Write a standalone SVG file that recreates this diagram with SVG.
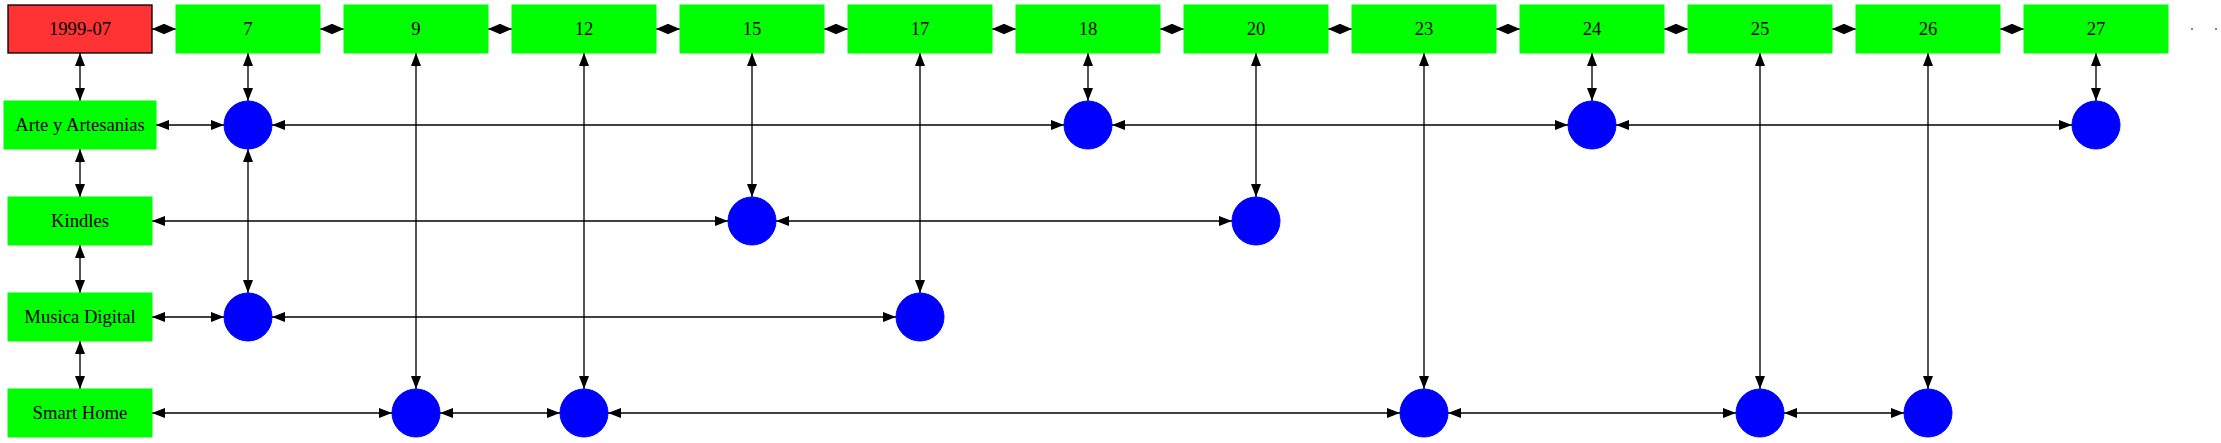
<svg xmlns="http://www.w3.org/2000/svg" width="2221" height="443" viewBox="0 0 2221 443">
<style>
.g{fill:#00ff00;stroke:#00ff00;stroke-width:1}
.r{fill:#ff3333;stroke:#000;stroke-width:1.33}
.c{fill:#0000ff;stroke:#0000ff;stroke-width:1}
.t{font-size:18.67px;text-anchor:middle;fill:#000}
.e{stroke:#000;stroke-width:1.33;fill:none;marker-start:url(#a);marker-end:url(#a)}
.d{stroke:#000;stroke-width:1.33;fill:none;marker-start:url(#b);marker-end:url(#b)}
</style>
<defs>
<marker id="a" markerUnits="userSpaceOnUse" viewBox="0 0 13.4 10.4" refX="13.4" refY="5.2" markerWidth="13.4" markerHeight="10.4" orient="auto-start-reverse"><path d="M0,0 L13.4,5.2 L0,10.4 z" fill="#000"/></marker>
<marker id="b" markerUnits="userSpaceOnUse" viewBox="0 0 12 10.4" refX="12" refY="5.2" markerWidth="12" markerHeight="10.4" orient="auto-start-reverse"><path d="M0,0 L12,5.2 L0,10.4 z" fill="#000"/></marker>
</defs>
<rect width="2221" height="443" fill="#fff"/>
<g id="connectors">
<line class="d" x1="152" y1="29" x2="176" y2="29"/>
<line class="d" x1="320" y1="29" x2="344" y2="29"/>
<line class="d" x1="488" y1="29" x2="512" y2="29"/>
<line class="d" x1="656" y1="29" x2="680" y2="29"/>
<line class="d" x1="824" y1="29" x2="848" y2="29"/>
<line class="d" x1="992" y1="29" x2="1016" y2="29"/>
<line class="d" x1="1160" y1="29" x2="1184" y2="29"/>
<line class="d" x1="1328" y1="29" x2="1352" y2="29"/>
<line class="d" x1="1496" y1="29" x2="1520" y2="29"/>
<line class="d" x1="1664" y1="29" x2="1688" y2="29"/>
<line class="d" x1="1832" y1="29" x2="1856" y2="29"/>
<line class="d" x1="2000" y1="29" x2="2024" y2="29"/>
<line class="e" x1="80" y1="53" x2="80" y2="101"/>
<line class="e" x1="80" y1="149" x2="80" y2="197"/>
<line class="e" x1="80" y1="245" x2="80" y2="293"/>
<line class="e" x1="80" y1="341" x2="80" y2="389"/>
<line class="e" x1="156" y1="125" x2="224" y2="125"/>
<line class="e" x1="272" y1="125" x2="1064" y2="125"/>
<line class="e" x1="1112" y1="125" x2="1568" y2="125"/>
<line class="e" x1="1616" y1="125" x2="2072" y2="125"/>
<line class="e" x1="152" y1="221" x2="728" y2="221"/>
<line class="e" x1="776" y1="221" x2="1232" y2="221"/>
<line class="e" x1="152" y1="317" x2="224" y2="317"/>
<line class="e" x1="272" y1="317" x2="896" y2="317"/>
<line class="e" x1="152" y1="413" x2="392" y2="413"/>
<line class="e" x1="440" y1="413" x2="560" y2="413"/>
<line class="e" x1="608" y1="413" x2="1400" y2="413"/>
<line class="e" x1="1448" y1="413" x2="1736" y2="413"/>
<line class="e" x1="1784" y1="413" x2="1904" y2="413"/>
<line class="e" x1="248" y1="53" x2="248" y2="101"/>
<line class="e" x1="248" y1="149" x2="248" y2="293"/>
<line class="e" x1="416" y1="53" x2="416" y2="389"/>
<line class="e" x1="584" y1="53" x2="584" y2="389"/>
<line class="e" x1="752" y1="53" x2="752" y2="197"/>
<line class="e" x1="920" y1="53" x2="920" y2="293"/>
<line class="e" x1="1088" y1="53" x2="1088" y2="101"/>
<line class="e" x1="1256" y1="53" x2="1256" y2="197"/>
<line class="e" x1="1424" y1="53" x2="1424" y2="389"/>
<line class="e" x1="1592" y1="53" x2="1592" y2="101"/>
<line class="e" x1="1760" y1="53" x2="1760" y2="389"/>
<line class="e" x1="1928" y1="53" x2="1928" y2="389"/>
<line class="e" x1="2096" y1="53" x2="2096" y2="101"/>
</g>
<g font-family="'Liberation Serif', 'DejaVu Serif', serif">
<g id="n1999-07"><rect class="r" x="8" y="5" width="144" height="48"/><text class="t" x="80" y="35">1999-07</text></g>
<g id="n7"><rect class="g" x="176" y="5" width="144" height="48"/><text class="t" x="248" y="35">7</text></g>
<g id="n9"><rect class="g" x="344" y="5" width="144" height="48"/><text class="t" x="416" y="35">9</text></g>
<g id="n12"><rect class="g" x="512" y="5" width="144" height="48"/><text class="t" x="584" y="35">12</text></g>
<g id="n15"><rect class="g" x="680" y="5" width="144" height="48"/><text class="t" x="752" y="35">15</text></g>
<g id="n17"><rect class="g" x="848" y="5" width="144" height="48"/><text class="t" x="920" y="35">17</text></g>
<g id="n18"><rect class="g" x="1016" y="5" width="144" height="48"/><text class="t" x="1088" y="35">18</text></g>
<g id="n20"><rect class="g" x="1184" y="5" width="144" height="48"/><text class="t" x="1256" y="35">20</text></g>
<g id="n23"><rect class="g" x="1352" y="5" width="144" height="48"/><text class="t" x="1424" y="35">23</text></g>
<g id="n24"><rect class="g" x="1520" y="5" width="144" height="48"/><text class="t" x="1592" y="35">24</text></g>
<g id="n25"><rect class="g" x="1688" y="5" width="144" height="48"/><text class="t" x="1760" y="35">25</text></g>
<g id="n26"><rect class="g" x="1856" y="5" width="144" height="48"/><text class="t" x="1928" y="35">26</text></g>
<g id="n27"><rect class="g" x="2024" y="5" width="144" height="48"/><text class="t" x="2096" y="35">27</text></g>
<g id="arte"><rect class="g" x="4" y="101" width="152" height="48"/><text class="t" x="80" y="131">Arte y Artesanias</text></g>
<g id="kindles"><rect class="g" x="8" y="197" width="144" height="48"/><text class="t" x="80" y="227">Kindles</text></g>
<g id="musica"><rect class="g" x="8" y="293" width="144" height="48"/><text class="t" x="80" y="323">Musica Digital</text></g>
<g id="smarthome"><rect class="g" x="8" y="389" width="144" height="48"/><text class="t" x="80" y="419">Smart Home</text></g>
</g>
<g id="ellipsis"><rect x="2191" y="28" width="2" height="2" fill="#888"/><rect x="2215" y="28" width="2" height="2" fill="#888"/></g>
<g id="c-arte-7"><circle class="c" cx="248" cy="125" r="24"/></g>
<g id="c-arte-18"><circle class="c" cx="1088" cy="125" r="24"/></g>
<g id="c-arte-24"><circle class="c" cx="1592" cy="125" r="24"/></g>
<g id="c-arte-27"><circle class="c" cx="2096" cy="125" r="24"/></g>
<g id="c-kin-15"><circle class="c" cx="752" cy="221" r="24"/></g>
<g id="c-kin-20"><circle class="c" cx="1256" cy="221" r="24"/></g>
<g id="c-mus-7"><circle class="c" cx="248" cy="317" r="24"/></g>
<g id="c-mus-17"><circle class="c" cx="920" cy="317" r="24"/></g>
<g id="c-sh-9"><circle class="c" cx="416" cy="413" r="24"/></g>
<g id="c-sh-12"><circle class="c" cx="584" cy="413" r="24"/></g>
<g id="c-sh-23"><circle class="c" cx="1424" cy="413" r="24"/></g>
<g id="c-sh-25"><circle class="c" cx="1760" cy="413" r="24"/></g>
<g id="c-sh-26"><circle class="c" cx="1928" cy="413" r="24"/></g>
</svg>
